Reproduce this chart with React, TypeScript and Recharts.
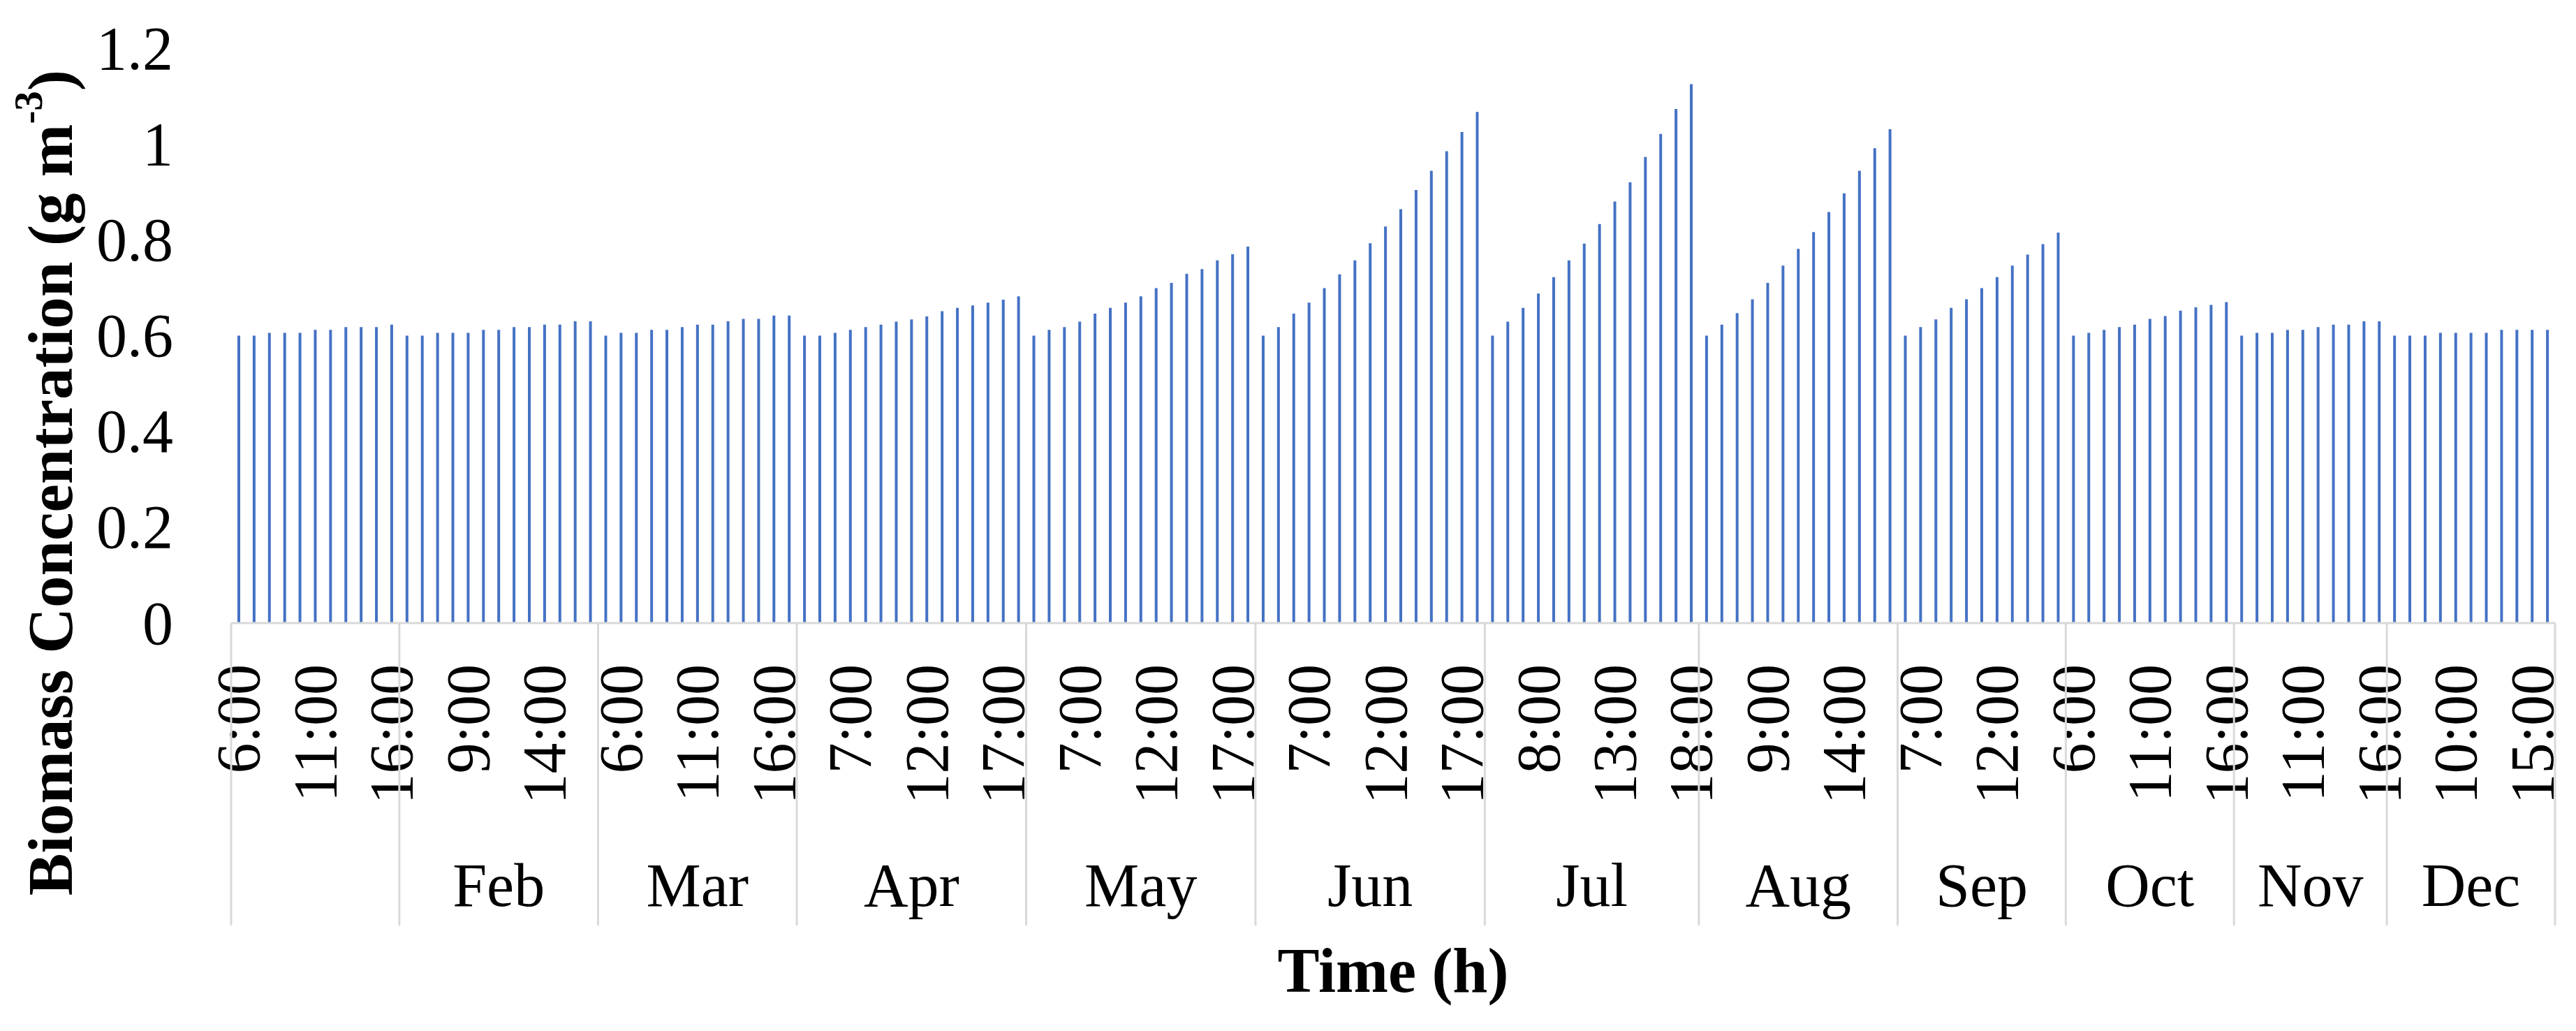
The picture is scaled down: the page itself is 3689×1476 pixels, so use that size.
import React from 'react';
import { BarChart, Bar, XAxis, YAxis, Label } from 'recharts';

// ---- data ----
const monthLabels = ['', 'Feb', 'Mar', 'Apr', 'May', 'Jun', 'Jul', 'Aug', 'Sep', 'Oct', 'Nov', 'Dec'];
const startHours = [6, 5, 5, 4, 4, 4, 5, 5, 6, 6, 7, 6];

const jan = [0.600, 0.600, 0.606, 0.606, 0.606, 0.612, 0.612, 0.618, 0.618, 0.618, 0.623];
const feb = [0.600, 0.600, 0.606, 0.606, 0.606, 0.612, 0.612, 0.618, 0.618, 0.623, 0.623, 0.630, 0.630];
const mar = [0.600, 0.606, 0.606, 0.612, 0.612, 0.618, 0.623, 0.623, 0.630, 0.635, 0.635, 0.642, 0.642];
const apr = [0.600, 0.600, 0.606, 0.612, 0.618, 0.623, 0.629, 0.634, 0.640, 0.651, 0.658, 0.663, 0.669, 0.675, 0.682];
const may = [0.600, 0.612, 0.618, 0.629, 0.646, 0.658, 0.669, 0.682, 0.699, 0.710, 0.729, 0.739, 0.757, 0.770, 0.786];
const jun = [0.600, 0.618, 0.646, 0.669, 0.699, 0.728, 0.757, 0.793, 0.828, 0.864, 0.904, 0.944, 0.985, 1.025, 1.067];
const jul = [0.600, 0.629, 0.658, 0.688, 0.722, 0.757, 0.792, 0.833, 0.880, 0.920, 0.973, 1.021, 1.073, 1.125];
const aug = [0.600, 0.623, 0.647, 0.676, 0.710, 0.746, 0.781, 0.816, 0.858, 0.897, 0.944, 0.991, 1.031];
const sep = [0.600, 0.618, 0.634, 0.658, 0.676, 0.699, 0.722, 0.746, 0.769, 0.791, 0.815];
const oct = [0.600, 0.606, 0.612, 0.618, 0.623, 0.635, 0.641, 0.652, 0.659, 0.664, 0.670];
const nov = [0.600, 0.606, 0.606, 0.612, 0.612, 0.618, 0.623, 0.623, 0.630, 0.630];
const dec = [0.600, 0.600, 0.600, 0.606, 0.606, 0.606, 0.606, 0.612, 0.612, 0.612, 0.612];

const monthValues = [jan, feb, mar, apr, may, jun, jul, aug, sep, oct, nov, dec];
const yTicks = [0, 0.2, 0.4, 0.6, 0.8, 1, 1.2];

type Row = { key: number; hour: string; month: number; pos: number; count: number; value: number };
const data: Row[] = [];
monthValues.forEach((vals, m) => {
  vals.forEach((v, p) => {
    data.push({
      key: data.length,
      hour: `${startHours[m] + p}:00`,
      month: m,
      pos: p,
      count: vals.length,
      value: v,
    });
  });
});

// ---- layout ----
const W = 3689;
const H = 1476;
const LEFT = 331;
const RIGHT_M = 30;
const TOP = 69;
const X_AXIS_H = 584;
const AXIS_Y = H - X_AXIS_H;
const PLOT_W = W - LEFT - RIGHT_M;
const BAND = PLOT_W / data.length;
const FONT = "'Liberation Serif', 'Times New Roman', serif";
const FS = 88;
const GRAY = '#d9d9d9';

const XTick = (props: any) => {
  const { x, payload } = props;
  const row = data[payload.value];
  if (!row) return null;
  const items: React.ReactNode[] = [];
  if (row.key % 5 === 0) {
    const ty = AXIS_Y + 59;
    items.push(
      <text key="h" x={x} y={ty} transform={`rotate(-90 ${x} ${ty})`} textAnchor="end"
        dominantBaseline="central" fontFamily={FONT} fontSize={FS} fill="#000">
        {row.hour}
      </text>
    );
  }
  if (row.pos === 0) {
    const sx = x - BAND / 2;
    items.push(<line key="s" x1={sx} x2={sx} y1={AXIS_Y} y2={AXIS_Y + 433} stroke={GRAY} strokeWidth={3} />);
    const cx = sx + (row.count * BAND) / 2;
    items.push(
      <text key="m" x={cx} y={AXIS_Y + 405} textAnchor="middle" fontFamily={FONT} fontSize={FS} fill="#000">
        {monthLabels[row.month]}
      </text>
    );
  }
  if (row.key === data.length - 1) {
    const ex = x + BAND / 2;
    items.push(<line key="e" x1={ex} x2={ex} y1={AXIS_Y} y2={AXIS_Y + 433} stroke={GRAY} strokeWidth={3} />);
  }
  return <g>{items}</g>;
};

const YTick = (props: any) => {
  const { y, payload } = props;
  return (
    <text x={LEFT - 83} y={y} textAnchor="end" dominantBaseline="central" fontFamily={FONT} fontSize={FS} fill="#000">
      {String(payload.value)}
    </text>
  );
};

const XTitle = () => (
  <text x={LEFT + PLOT_W / 2} y={1420} textAnchor="middle" fontFamily={FONT} fontSize={90} fontWeight="bold" fill="#000">
    Time (h)
  </text>
);

const YTitle = () => (
  <text x={72} y={691} transform="rotate(-90 72 691)" textAnchor="middle" dominantBaseline="central"
    fontFamily={FONT} fontSize={91} fontWeight="bold" fill="#000">
    Biomass Concentration (g m
    <tspan dy={-32} fontSize={57}>-3</tspan>
    <tspan dy={32}>)</tspan>
  </text>
);

export default function App() {
  return (
    <div style={{ position: 'absolute', left: 0, top: 0, width: W, height: H, background: '#fff' }}>
      <BarChart width={W} height={H} data={data} margin={{ top: TOP, right: RIGHT_M, bottom: 0, left: 0 }}>
        <XAxis dataKey="key" type="category" interval={0} height={X_AXIS_H} tickLine={false}
          axisLine={{ stroke: GRAY, strokeWidth: 3 }} tick={<XTick />}>
          <Label content={<XTitle />} />
        </XAxis>
        <YAxis width={LEFT} domain={[0, 1.2]} ticks={yTicks} axisLine={false} tickLine={false} tick={<YTick />}>
          <Label content={<YTitle />} />
        </YAxis>
        <Bar dataKey="value" fill="#4472C4" barSize={4} isAnimationActive={false} />
      </BarChart>
    </div>
  );
}
